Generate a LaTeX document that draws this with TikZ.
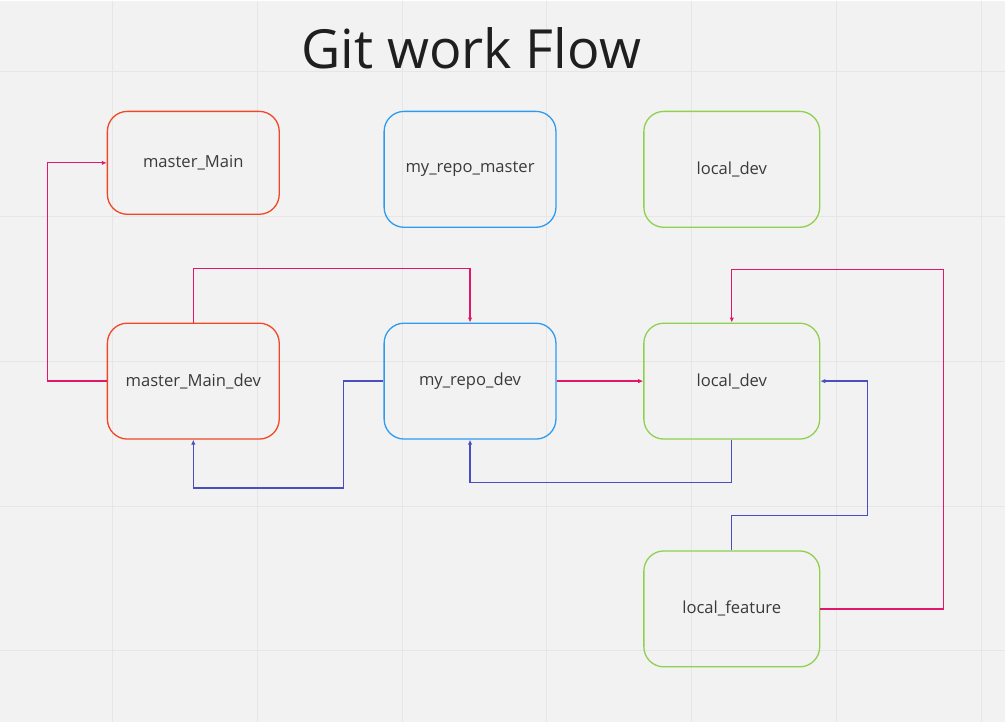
\documentclass[tikz,border=0pt]{standalone}
\usepackage{fontspec}
\setmainfont{Open Sans}
\usepackage{tikz}
\usetikzlibrary{arrows.meta}

\definecolor{bgcol}{HTML}{F2F2F2}
\definecolor{gridcol}{HTML}{E6E6E6}
\definecolor{redcol}{HTML}{F24726}
\definecolor{bluecol}{HTML}{2D9BF0}
\definecolor{greencol}{HTML}{8FD14F}
\definecolor{pinkcol}{HTML}{E0186C}
\definecolor{navycol}{HTML}{4A4FC0}
\definecolor{textcol}{HTML}{3A3A3A}

\begin{document}
\begin{tikzpicture}[x=1pt,y=-1pt,
	box/.style={draw, line width=1.3pt, rounded corners=20pt, minimum width=172pt,
		text=textcol, font=\fontsize{16.6}{18}\selectfont, inner sep=0pt},
	redbox/.style={box, draw=redcol},
	bluebox/.style={box, draw=bluecol},
	greenbox/.style={box, draw=greencol, minimum width=176pt},
	pinkline/.style={draw=pinkcol, line width=1.3pt, -{Latex[length=5pt,width=4.5pt]}},
	navyline/.style={draw=navycol, line width=1.3pt, -{Latex[length=5pt,width=4.5pt]}}]
	% background and grid
	\fill[bgcol] (0,0) rectangle (1005,722);
	\foreach \gx in {112,257,402,547,692,837,982}
		\draw[gridcol, line width=1pt] (\gx,0) -- (\gx,722);
	\foreach \gy in {71,216,361,506,651}
		\draw[gridcol, line width=1pt] (0,\gy) -- (1005,\gy);
	\useasboundingbox (0,0) rectangle (1005,722);

	\node[anchor=base, text=black!88, font=\fontsize{54}{58}\selectfont] at (471,68) (title){Git work Flow};

	\node[redbox, minimum height=103pt] at (193,162.5) (mm){master\_Main};
	\node[bluebox, minimum height=116pt] at (470,169) (mrm){my\_repo\_master};
	\node[greenbox, minimum height=116pt] at (732,169) (ldtop){local\_dev};
	\node[redbox, minimum height=116pt] at (193,381) (mmd){master\_Main\_dev};
	\node[bluebox, minimum height=116pt] at (470,381) (mrd){my\_repo\_dev};
	\node[greenbox, minimum height=116pt] at (732,381) (ld){local\_dev};
	\node[greenbox, minimum height=116pt] at (732,609) (lf){local\_feature};

	\draw[pinkline] (mmd.west) -- ++(-59,0) |- (mm.west);
	\draw[pinkline] (mmd.north) -- ++(0,-54) -| (mrd.north);
	\draw[pinkline] (mrd.east) -- (ld.west);
	\draw[navyline] (mrd.west) -- ++(-40,0) -- ++(0,107) -| (mmd.south);
	\draw[navyline] (ld.south) -- ++(0,43) -| (mrd.south);
	\draw[navyline] (lf.north) -- ++(0,-35) -- ++(136,0) |- (ld.east);
	\draw[pinkline] (lf.east) -- ++(123,0) -- ++(0,-340) -| (ld.north);
\end{tikzpicture}
\end{document}
